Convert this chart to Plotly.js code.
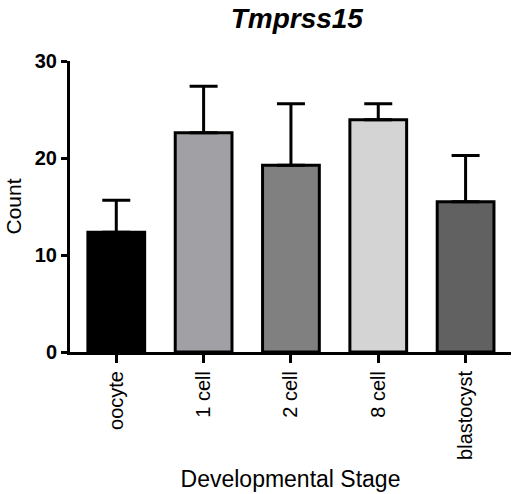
<!DOCTYPE html>
<html>
<head>
<meta charset="utf-8">
<script src="https://cdn.plot.ly/plotly-3.0.1.min.js"></script>
<style>html,body{margin:0;padding:0;background:#fff;}#chart{width:518px;height:494px;}</style>
</head>
<body>
<div id="chart"></div>
<script>
const categories = ["oocyte", "1 cell", "2 cell", "8 cell", "blastocyst"];
const counts = [12.35, 22.6, 19.25, 23.95, 15.5];
const errorsUp = [3.3, 4.8, 6.35, 1.65, 4.75];
const barColors = ["#000000", "#A1A1A5", "#808080", "#D4D4D4", "#616161"];
const yTicks = [0, 10, 20, 30];

const font = "Liberation Sans, Arial, Helvetica, sans-serif";

const trace = {
  type: "bar",
  x: categories,
  y: counts,
  marker: { color: barColors, line: { color: "#000", width: 3 } },
  error_y: {
    type: "data",
    symmetric: false,
    array: errorsUp,
    arrayminus: errorsUp.map(() => 0),
    color: "#000",
    thickness: 3,
    width: 14
  },
  hoverinfo: "none"
};

const layout = {
  width: 518,
  height: 494,
  margin: { l: 70, r: 7, t: 61, b: 142 },
  paper_bgcolor: "#fff",
  plot_bgcolor: "#fff",
  showlegend: false,
  bargap: 0.35,
  title: {
    text: "<b><i>Tmprss15</i></b>",
    font: { family: font, size: 28, color: "#000" },
    x: 0.573, xanchor: "center", y: 0.963, yanchor: "middle"
  },
  xaxis: {
    type: "category",
    range: [-0.53, 4.52],
    showgrid: false,
    zeroline: false,
    showline: true, linecolor: "#000", linewidth: 3,
    ticks: "outside", ticklen: 8, tickwidth: 3, tickcolor: "#000",
    tickangle: -90,
    tickfont: { family: font, size: 20, color: "#000" },
    title: { text: "Developmental Stage", font: { family: font, size: 23, color: "#000" }, standoff: 12 }
  },
  yaxis: {
    range: [0, 30],
    tickvals: yTicks,
    ticktext: yTicks.map(v => "<b>" + v + "</b>"),
    showgrid: false,
    zeroline: false,
    showline: true, linecolor: "#000", linewidth: 3,
    ticks: "outside", ticklen: 6, tickwidth: 3, tickcolor: "#000",
    tickfont: { family: font, size: 20, color: "#000" },
    title: { text: "Count", font: { family: font, size: 21, color: "#000" }, standoff: 8 }
  }
};

Plotly.newPlot("chart", [trace], layout, { displayModeBar: false, staticPlot: true });
</script>
</body>
</html>
